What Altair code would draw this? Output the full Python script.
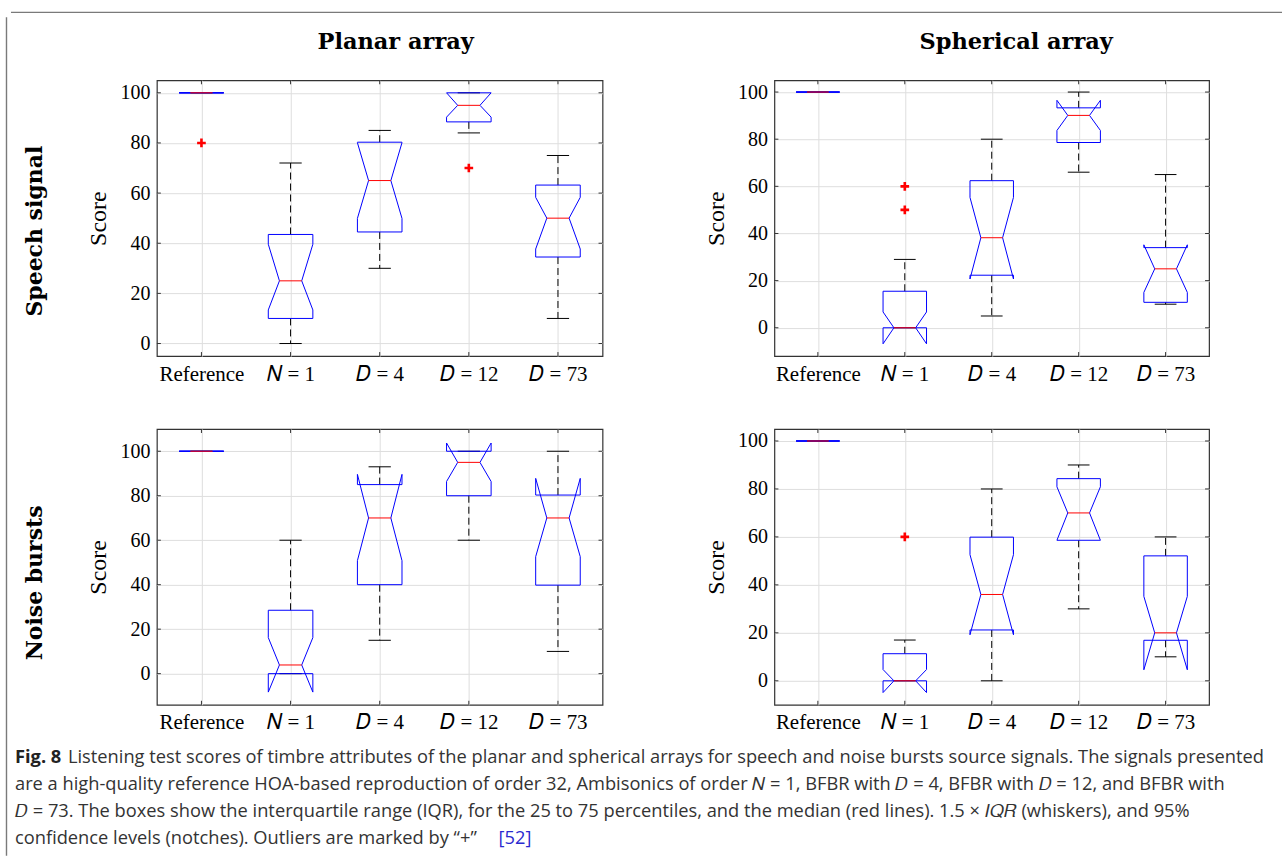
import json
import altair as alt
import pandas as pd

# ---------------- data ----------------
CATEGORIES = ["Reference", "𝑁 = 1", "𝐷 = 4", "𝐷 = 12", "𝐷 = 73"]
COLUMN_TITLES = ["Planar array", "Spherical array"]
ROW_TITLES = ["Speech signal", "Noise bursts"]
Y_TICKS = [0, 20, 40, 60, 80, 100]

# Planar array, speech signal
PS_Q1 = [100, 10, 44.5, 88.4, 34.5]
PS_Q3 = [100, 43.5, 80.3, 100, 63.2]
PS_MED = [100, 25, 65, 95, 50]
PS_NOTCH_LO = [100, 13.4, 49.9, 90.3, 37.7]
PS_NOTCH_HI = [100, 39.6, 80.1, 100, 58.3]
PS_WHISK_LO = [100, 0, 30, 84, 10]
PS_WHISK_HI = [100, 72, 85, 100, 75]
PS_OUT_CAT = [1, 4]
PS_OUT_VAL = [80, 70]
PS_YDOM = [-5, 105]

# Spherical array, speech signal
SS_Q1 = [100, 0, 22.3, 78.6, 10.8]
SS_Q3 = [100, 15.5, 62.4, 93.3, 34]
SS_MED = [100, 0, 38.2, 90.1, 25]
SS_NOTCH_LO = [100, -6.8, 20.7, 83.7, 15]
SS_NOTCH_HI = [100, 6.7, 55.3, 96.5, 35.2]
SS_WHISK_LO = [100, 0, 5, 66, 10]
SS_WHISK_HI = [100, 29, 80, 100, 65]
SS_OUT_CAT = [2, 2]
SS_OUT_VAL = [60, 50]
SS_YDOM = [-12, 105]

# Planar array, noise bursts
PN_Q1 = [100, 0, 40, 80, 39.8]
PN_Q3 = [100, 28.5, 85, 100, 80.3]
PN_MED = [100, 3.9, 70, 95, 70]
PN_NOTCH_LO = [100, -8.3, 50.8, 86.4, 52.6]
PN_NOTCH_HI = [100, 16.2, 89.6, 103.7, 87.8]
PN_WHISK_LO = [100, 0, 15, 60, 10]
PN_WHISK_HI = [100, 60, 93, 100, 100]
PN_OUT_CAT = []
PN_OUT_VAL = []
PN_YDOM = [-14, 110]

# Spherical array, noise bursts
SN_Q1 = [100, 0, 21.2, 58.6, 16.9]
SN_Q3 = [100, 11.3, 59.9, 84.3, 52.1]
SN_MED = [100, 0, 36, 70, 20]
SN_NOTCH_LO = [100, -4.9, 19.2, 58.6, 4.6]
SN_NOTCH_HI = [100, 4.7, 52.6, 80.9, 35.2]
SN_WHISK_LO = [100, 0, 0, 30, 10]
SN_WHISK_HI = [100, 17, 80, 90, 60]
SN_OUT_CAT = [2]
SN_OUT_VAL = [60]
SN_YDOM = [-10, 105]

CAPTION_BOLD = "Fig. 8"
CAPTION_FIRST = "Listening test scores of timbre attributes of the planar and spherical arrays for speech and noise bursts source signals. The signals presented"
CAPTION_LINES = [
    "are a high-quality reference HOA-based reproduction of order 32, Ambisonics of order 𝑁 = 1, BFBR with 𝐷 = 4, BFBR with 𝐷 = 12, and BFBR with",
    "𝐷 = 73. The boxes show the interquartile range (IQR), for the 25 to 75 percentiles, and the median (red lines). 1.5 × 𝐼𝑄𝑅 (whiskers), and 95%",
    "confidence levels (notches). Outliers are marked by “+”",
]
CAPTION_REF = "[52]"

# ---------------- styling / layout ----------------
SERIF = "Liberation Serif"
BOLD_SERIF = "DejaVu Serif"
BOX_HALF = 0.25
NOTCH_HALF = 0.125
BLUE = "#0000ff"
RED = "#ff0000"
GRID = "#dedede"
FRAME = "#333333"
BORDER = "#7a7a7a"
TICK_LEN = 4
W_LEFT, W_RIGHT, H = 446, 435, 276
CAP_FONT = "Open Sans"
CAP_SIZE = 18.3


def one(**kw):
    return pd.DataFrame({k: [v] for k, v in kw.items()})


def panel(q1, q3, med, nlo, nhi, wlo, whi, out_cat, out_val, ydom, width, height, extra=()):
    n = len(CATEGORIES)
    xs = list(range(1, n + 1))

    poly = []
    for i, x in enumerate(xs):
        pts = [(x - BOX_HALF, q1[i]), (x - BOX_HALF, nlo[i]), (x - NOTCH_HALF, med[i]),
               (x - BOX_HALF, nhi[i]), (x - BOX_HALF, q3[i]), (x + BOX_HALF, q3[i]),
               (x + BOX_HALF, nhi[i]), (x + NOTCH_HALF, med[i]), (x + BOX_HALF, nlo[i]),
               (x + BOX_HALF, q1[i]), (x - BOX_HALF, q1[i])]
        for k, (px, py) in enumerate(pts):
            poly.append({"cat": i, "ord": k, "x": px, "y": py})
    poly = pd.DataFrame(poly)

    whisk = pd.DataFrame(
        [{"x": x, "y": q3[i], "y2": whi[i]} for i, x in enumerate(xs)]
        + [{"x": x, "y": q1[i], "y2": wlo[i]} for i, x in enumerate(xs)]
    )
    caps = pd.DataFrame(
        [{"x": x - NOTCH_HALF, "x2": x + NOTCH_HALF, "y": whi[i]} for i, x in enumerate(xs)]
        + [{"x": x - NOTCH_HALF, "x2": x + NOTCH_HALF, "y": wlo[i]} for i, x in enumerate(xs)]
    )
    meds = pd.DataFrame(
        [{"x": x - NOTCH_HALF, "x2": x + NOTCH_HALF, "y": med[i]} for i, x in enumerate(xs)]
    )
    outs = pd.DataFrame({"x": out_cat, "y": out_val}) if out_cat else pd.DataFrame({"x": [], "y": []})
    yt = pd.DataFrame({"y": Y_TICKS})
    xt = pd.DataFrame({"x": xs})

    label_expr = json.dumps(CATEGORIES, ensure_ascii=False) + "[datum.value - 1]"
    xscale = alt.Scale(domain=[0.5, n + 0.5], nice=False, zero=False)
    yscale = alt.Scale(domain=ydom, nice=False, zero=False)
    xaxis = alt.Axis(values=xs, labelExpr=label_expr, title=None, grid=True, gridColor=GRID,
                     ticks=False, domain=False, labelFont=SERIF, labelFontSize=21,
                     labelColor="black", labelPadding=7, labelFlush=False)
    yaxis = alt.Axis(values=Y_TICKS, title="Score", grid=True, gridColor=GRID, ticks=False,
                     domain=False, labelFont=SERIF, labelFontSize=20, labelColor="black",
                     labelPadding=7, titleFont=SERIF, titleFontSize=24, titleFontWeight="normal",
                     titleColor="black", titlePadding=9)

    X = lambda f="x": alt.X(f"{f}:Q", scale=xscale, axis=xaxis)
    Y = lambda f="y": alt.Y(f"{f}:Q", scale=yscale, axis=yaxis)

    whisk_l = alt.Chart(whisk).mark_rule(color="black", strokeWidth=1, strokeDash=[7, 4]).encode(
        x=X(), y=Y(), y2="y2:Q")
    caps_l = alt.Chart(caps).mark_rule(color="black", strokeWidth=1).encode(x=X(), x2="x2:Q", y=Y())
    box_l = alt.Chart(poly).mark_line(color=BLUE, strokeWidth=1).encode(
        x=X(), y=Y(), detail="cat:N", order="ord:Q")
    med_l = alt.Chart(meds).mark_rule(color=RED, strokeWidth=1).encode(x=X(), x2="x2:Q", y=Y())
    out_l = alt.Chart(outs).mark_point(
        shape="M -1 0 L 1 0 M 0 -1 L 0 1", filled=False, color=RED, strokeWidth=2.6, size=75,
        opacity=1).encode(x=X(), y=Y())
    ytl = alt.Chart(yt).mark_rule(color=FRAME).encode(x=alt.value(0), x2=alt.value(TICK_LEN), y=Y())
    ytr = alt.Chart(yt).mark_rule(color=FRAME).encode(x=alt.value(width - TICK_LEN), x2=alt.value(width), y=Y())
    xtb = alt.Chart(xt).mark_rule(color=FRAME).encode(x=X(), y=alt.value(height), y2=alt.value(height - TICK_LEN))
    xtt = alt.Chart(xt).mark_rule(color=FRAME).encode(x=X(), y=alt.value(0), y2=alt.value(TICK_LEN))

    return alt.layer(whisk_l, caps_l, box_l, med_l, out_l, ytl, ytr, xtb, xtt, *extra).properties(
        width=width, height=height,
        view=alt.ViewBackground(stroke=FRAME, strokeWidth=1.2, fill="white"))


def col_title(text, cx):
    return alt.Chart(one(t=text)).mark_text(
        font=BOLD_SERIF, fontWeight="bold", fontSize=22.5, color="black", align="center",
        baseline="alphabetic").encode(text="t:N", x=alt.value(cx), y=alt.value(-31))


def row_title(text, cy):
    return alt.Chart(one(t=text)).mark_text(
        angle=270, font=BOLD_SERIF, fontWeight="bold", fontSize=22, color="black",
        align="center", baseline="middle").encode(text="t:N", x=alt.value(-122), y=alt.value(cy))


def cap_text(text, x, y, weight="normal", color="#333333"):
    return alt.Chart(one(t=text)).mark_text(
        font=CAP_FONT, fontSize=CAP_SIZE, fontWeight=weight, color=color, align="left",
        baseline="middle").encode(text="t:N", x=alt.value(x), y=alt.value(y))


# figure frame (top and left edges)
frame_left = alt.Chart(one(k=0)).mark_rule(color=BORDER, strokeWidth=1.4).encode(
    x=alt.value(-150.5), y=alt.value(-63), y2=alt.value(776))
frame_top = alt.Chart(one(k=0)).mark_rule(color=BORDER, strokeWidth=1.4).encode(
    x=alt.value(-146), x2=alt.value(1126), y=alt.value(-68))

p1 = panel(PS_Q1, PS_Q3, PS_MED, PS_NOTCH_LO, PS_NOTCH_HI, PS_WHISK_LO, PS_WHISK_HI,
           PS_OUT_CAT, PS_OUT_VAL, PS_YDOM, W_LEFT, H,
           extra=[frame_left, frame_top, col_title(COLUMN_TITLES[0], 239),
                  row_title(ROW_TITLES[0], 151)])
p2 = panel(SS_Q1, SS_Q3, SS_MED, SS_NOTCH_LO, SS_NOTCH_HI, SS_WHISK_LO, SS_WHISK_HI,
           SS_OUT_CAT, SS_OUT_VAL, SS_YDOM, W_RIGHT, H,
           extra=[col_title(COLUMN_TITLES[1], 242)])

CAP_X = -142
CAP_Y = [329, 356, 383, 410]
p3 = panel(PN_Q1, PN_Q3, PN_MED, PN_NOTCH_LO, PN_NOTCH_HI, PN_WHISK_LO, PN_WHISK_HI,
           PN_OUT_CAT, PN_OUT_VAL, PN_YDOM, W_LEFT, H,
           extra=[row_title(ROW_TITLES[1], 154),
                  cap_text(CAPTION_BOLD, CAP_X, CAP_Y[0], "bold", "#222222"),
                  cap_text(CAPTION_FIRST, CAP_X + 53, CAP_Y[0]),
                  cap_text(CAPTION_LINES[0], CAP_X, CAP_Y[1]),
                  cap_text(CAPTION_LINES[1], CAP_X, CAP_Y[2]),
                  cap_text(CAPTION_LINES[2], CAP_X, CAP_Y[3]),
                  cap_text(CAPTION_REF, 342, CAP_Y[3], color="#2a2ad0")])
p4 = panel(SN_Q1, SN_Q3, SN_MED, SN_NOTCH_LO, SN_NOTCH_HI, SN_WHISK_LO, SN_WHISK_HI,
           SN_OUT_CAT, SN_OUT_VAL, SN_YDOM, W_RIGHT, H)

chart = alt.concat(p1, p2, p3, p4, columns=2, spacing={"row": 73, "column": 172},
                   bounds="flush").properties(
    padding={"left": 5, "top": 10, "right": 0, "bottom": 0},
    background="white",
).configure_view(stroke="transparent").configure_axis(
    labelFont=SERIF, titleFont=SERIF, labelColor="black", titleColor="black"
)

chart.save("out.html", embed_options={"renderer": "svg", "actions": False})
